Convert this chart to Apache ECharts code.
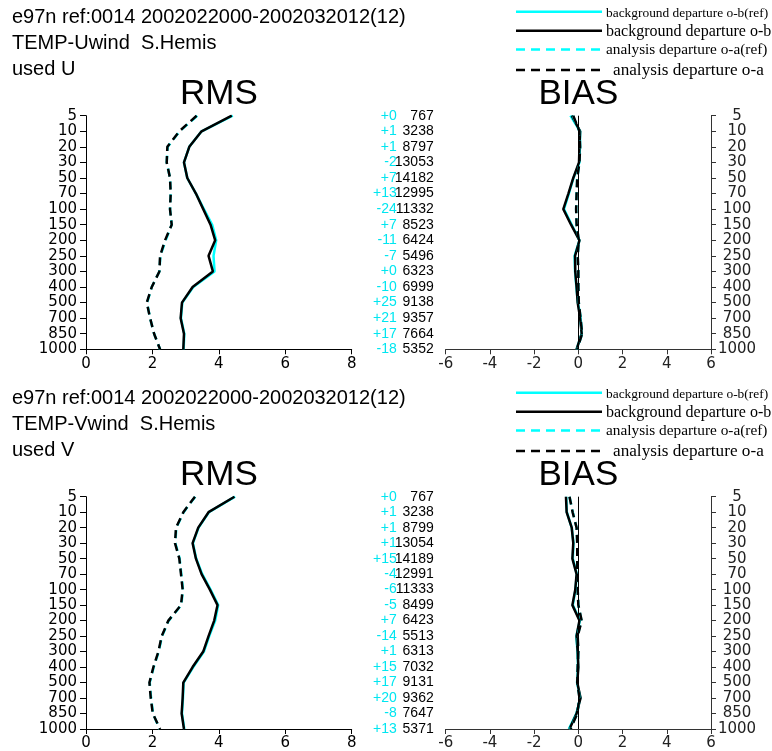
<!DOCTYPE html>
<html>
<head>
<meta charset="utf-8">
<script src="https://cdn.jsdelivr.net/npm/echarts@6/dist/echarts.min.js"></script>
<style>
  html, body { margin: 0; padding: 0; background: #fff; }
  #chart { width: 772px; height: 751px; }
</style>
</head>
<body>
<div id="chart"></div>
<script>
// Pressure levels (hPa), top of the profile first
const levels = ['5', '10', '20', '30', '50', '70', '100', '150', '200', '250', '300', '400', '500', '700', '850', '1000'];

// ---- U wind ----
const uCountDiff = [0, 1, 1, -2, 7, 13, -24, 7, -11, -7, 0, -10, 25, 21, 17, -18];
const uCount = [767, 3238, 8797, 13053, 14182, 12995, 11332, 8523, 6424, 5496, 6323, 6999, 9138, 9357, 7664, 5352];
const uRmsObRef = [4.42, 3.48, 3.11, 2.95, 3.05, 3.31, 3.55, 3.80, 3.92, 3.84, 3.87, 3.23, 2.90, 2.86, 2.96, 2.94];
const uRmsOb    = [4.39, 3.48, 3.11, 2.95, 3.05, 3.31, 3.53, 3.75, 3.89, 3.69, 3.82, 3.21, 2.89, 2.85, 2.95, 2.93];
const uRmsOaRef = [3.35, 2.82, 2.46, 2.43, 2.53, 2.55, 2.53, 2.58, 2.40, 2.24, 2.21, 1.98, 1.84, 1.93, 2.05, 2.23];
const uRmsOa    = [3.33, 2.81, 2.45, 2.43, 2.53, 2.55, 2.53, 2.58, 2.38, 2.23, 2.21, 1.98, 1.83, 1.93, 2.05, 2.23];
const uBiasObRef = [-0.36, 0.08, 0.07, 0.05, -0.22, -0.43, -0.65, -0.30, 0.05, -0.17, -0.15, -0.09, -0.02, 0.10, 0.15, -0.08];
const uBiasOb    = [-0.30, 0.08, 0.05, 0.03, -0.23, -0.45, -0.68, -0.33, 0.05, -0.15, -0.14, -0.08, -0.03, 0.08, 0.15, -0.08];
const uBiasOaRef = [-0.25, 0.05, 0.08, 0.05, -0.05, -0.08, -0.10, -0.08, 0.02, -0.03, 0.00, 0.00, 0.02, 0.10, 0.17, -0.05];
const uBiasOa    = [-0.23, 0.05, 0.08, 0.05, -0.05, -0.08, -0.10, -0.08, 0.02, -0.03, 0.00, 0.00, 0.02, 0.10, 0.17, -0.05];

// ---- V wind ----
const vCountDiff = [0, 1, 1, 1, 15, -4, -6, -5, 7, -14, 1, 15, 17, 20, -8, 13];
const vCount = [767, 3238, 8799, 13054, 14189, 12991, 11333, 8499, 6423, 5513, 6313, 7032, 9131, 9362, 7647, 5371];
const vRmsObRef = [4.49, 3.70, 3.39, 3.22, 3.32, 3.50, 3.75, 3.98, 3.89, 3.71, 3.55, 3.23, 2.94, 2.92, 2.89, 2.96];
const vRmsOb    = [4.47, 3.69, 3.38, 3.21, 3.31, 3.48, 3.73, 3.96, 3.86, 3.69, 3.53, 3.21, 2.93, 2.91, 2.88, 2.95];
const vRmsOaRef = [3.29, 2.94, 2.72, 2.69, 2.82, 2.87, 2.92, 2.87, 2.49, 2.29, 2.19, 2.04, 1.92, 1.96, 2.02, 2.21];
const vRmsOa    = [3.28, 2.93, 2.71, 2.68, 2.81, 2.86, 2.91, 2.86, 2.48, 2.28, 2.18, 2.03, 1.91, 1.95, 2.01, 2.23];
const vBiasObRef = [-0.55, -0.52, -0.30, -0.22, -0.25, -0.07, -0.13, -0.25, 0.07, -0.09, -0.04, -0.01, -0.06, 0.09, -0.09, -0.43];
const vBiasOb    = [-0.56, -0.53, -0.30, -0.23, -0.27, -0.08, -0.14, -0.27, 0.05, -0.08, -0.03, 0.00, -0.05, 0.10, -0.08, -0.40];
const vBiasOaRef = [-0.40, -0.25, -0.08, -0.05, -0.05, -0.05, -0.03, 0.00, 0.14, -0.04, 0.00, -0.03, -0.05, 0.06, -0.05, -0.37];
const vBiasOa    = [-0.40, -0.26, -0.08, -0.05, -0.05, -0.05, -0.03, 0.00, 0.15, -0.03, 0.00, -0.03, -0.05, 0.05, -0.05, -0.35];

const headerU = ['e97n ref:0014 2002022000-2002032012(12)', 'TEMP-Uwind  S.Hemis', 'used U'];
const headerV = ['e97n ref:0014 2002022000-2002032012(12)', 'TEMP-Vwind  S.Hemis', 'used V'];
const legendNames = ['background departure o-b(ref)', 'background departure o-b', 'analysis departure o-a(ref)', 'analysis departure o-a'];
const rmsTicks = { min: 0, max: 8, interval: 2 };
const biasTicks = { min: -6, max: 6, interval: 2 };

const CYAN = '#00ffff';
const SANS = 'Liberation Sans';
const TICKFONT = 'DejaVu Sans';
const DASH = [8, 5];

const panelStep = 381;
const plotTop = 115.7, plotH = 233.6;
const rmsLeft = 86, rmsW = 265.7;
const biasLeft = 445.7, biasW = 265.3;

const grids = [], xAxes = [], yAxes = [], series = [], graphics = [];

function signed(d) { return d >= 0 ? '+' + d : String(d); }
function pairs(vals) { return vals.map((v, i) => [v, levels[i]]); }

function addPanel(p, header, diffs, counts, rms, bias) {
  const oy = p * panelStep;
  const gRms = grids.length;
  grids.push({ left: rmsLeft, top: plotTop + oy, width: rmsW, height: plotH });
  const gBias = grids.length;
  grids.push({ left: biasLeft, top: plotTop + oy, width: biasW, height: plotH });

  const xr = xAxes.length;
  xAxes.push({
    type: 'value', gridIndex: gRms, position: 'bottom',
    min: rmsTicks.min, max: rmsTicks.max, interval: rmsTicks.interval,
    axisLine: { show: true, onZero: false, lineStyle: { color: '#000', width: 1 } },
    axisTick: { show: true, inside: false, length: 5, lineStyle: { color: '#000' } },
    axisLabel: { margin: 7, color: '#000', fontFamily: TICKFONT, fontSize: 15 },
    splitLine: { show: false }
  });
  const xb = xAxes.length;
  xAxes.push({
    type: 'value', gridIndex: gBias, position: 'bottom',
    min: biasTicks.min, max: biasTicks.max, interval: biasTicks.interval,
    axisLine: { show: true, onZero: false, lineStyle: { color: '#333', width: 1 } },
    axisTick: { show: true, inside: false, length: 5, lineStyle: { color: '#333' } },
    axisLabel: { margin: 7, color: '#222', fontFamily: TICKFONT, fontSize: 15 },
    splitLine: { show: false }
  });

  const catBase = { type: 'category', data: levels, inverse: true, boundaryGap: false, splitLine: { show: false } };
  const yr = yAxes.length;
  yAxes.push(Object.assign({}, catBase, {
    gridIndex: gRms, position: 'left',
    axisLine: { show: true, onZero: false, lineStyle: { color: '#000', width: 1 } },
    axisTick: { show: true, inside: false, length: 6, alignWithLabel: true, lineStyle: { color: '#000' } },
    axisLabel: { margin: 9, color: '#000', fontFamily: TICKFONT, fontSize: 15, interval: 0 }
  }));
  const yb = yAxes.length;
  yAxes.push(Object.assign({}, catBase, {
    gridIndex: gBias, position: 'right',
    axisLine: { show: true, onZero: false, lineStyle: { color: '#333', width: 1 } },
    axisTick: { show: true, inside: false, length: 5, alignWithLabel: true, lineStyle: { color: '#333' } },
    axisLabel: { margin: 26, align: 'center', color: '#222', fontFamily: TICKFONT, fontSize: 15, interval: 0 }
  }));
  // observation counts and count differences against the reference run
  yAxes.push(Object.assign({}, catBase, {
    gridIndex: gBias, position: 'left',
    axisLine: { show: false }, axisTick: { show: false },
    axisLabel: {
      margin: 12, interval: 0,
      formatter: (val, i) => '{d|' + signed(diffs[i]) + '}{n|' + counts[i] + '}',
      rich: {
        d: { color: '#00e6f0', fontFamily: SANS, fontSize: 14 },
        n: { color: '#000', fontFamily: SANS, fontSize: 14, width: 37, align: 'right' }
      }
    }
  }));

  const styles = [
    { color: CYAN, width: 2.5, type: 'solid' },
    { color: '#000', width: 2.5, type: 'solid' },
    { color: CYAN, width: 2.5, type: DASH },
    { color: '#000', width: 2.5, type: DASH }
  ];
  const order = [0, 2, 1, 3];
  order.forEach(k => {
    series.push({
      type: 'line', name: legendNames[k], xAxisIndex: xr, yAxisIndex: yr,
      data: pairs(rms[k]), symbol: 'none', lineStyle: styles[k], z: 2 + k, silent: true
    });
  });
  order.forEach((k, j) => {
    const s = {
      type: 'line', name: legendNames[k], xAxisIndex: xb, yAxisIndex: yb,
      data: pairs(bias[k]), symbol: 'none', lineStyle: styles[k], z: 2 + k, silent: true
    };
    if (j === 0) {
      s.markLine = {
        silent: true, symbol: 'none', label: { show: false },
        lineStyle: { color: '#000', width: 1, type: 'solid' },
        data: [{ xAxis: 0 }]
      };
    }
    series.push(s);
  });

  // header lines
  const hy = [18, 44, 70];
  header.forEach((t, i) => graphics.push({
    type: 'text', left: 12, top: hy[i] + oy - 11,
    style: { text: t, font: '20px "' + SANS + '"', fill: '#000' }
  }));
  // panel titles
  graphics.push({ type: 'text', x: rmsLeft + rmsW / 2, y: 94 + oy,
    style: { text: 'RMS', font: '35px "' + SANS + '"', fill: '#000', align: 'center', verticalAlign: 'middle' } });
  graphics.push({ type: 'text', x: biasLeft + biasW / 2, y: 94 + oy,
    style: { text: 'BIAS', font: '35px "' + SANS + '"', fill: '#000', align: 'center', verticalAlign: 'middle' } });

  // legend
  const ly = [11.7, 30.7, 49.5, 70];
  const ty = [13, 31.5, 50, 70];
  const tx = [606, 606, 606, 613];
  const fs = [13.4, 16, 15.3, 17.2];
  legendNames.forEach((name, i) => {
    graphics.push({ type: 'line', shape: { x1: 516, y1: ly[i] + oy, x2: 602, y2: ly[i] + oy },
      style: { stroke: styles[i].color, lineWidth: 2.5, lineDash: styles[i].type === 'solid' ? null : [9, 6] } });
    graphics.push({ type: 'text', x: tx[i], y: ty[i] + oy,
      style: { text: name, font: fs[i] + 'px "Liberation Serif"', fill: '#000', verticalAlign: 'middle' } });
  });
}

addPanel(0, headerU, uCountDiff, uCount,
  [uRmsObRef, uRmsOb, uRmsOaRef, uRmsOa], [uBiasObRef, uBiasOb, uBiasOaRef, uBiasOa]);
addPanel(1, headerV, vCountDiff, vCount,
  [vRmsObRef, vRmsOb, vRmsOaRef, vRmsOa], [vBiasObRef, vBiasOb, vBiasOaRef, vBiasOa]);

const chart = echarts.init(document.getElementById('chart'), null, { renderer: 'canvas' });
chart.setOption({
  animation: false,
  backgroundColor: '#fff',
  grid: grids,
  xAxis: xAxes,
  yAxis: yAxes,
  series: series,
  graphic: graphics
});
</script>
</body>
</html>
